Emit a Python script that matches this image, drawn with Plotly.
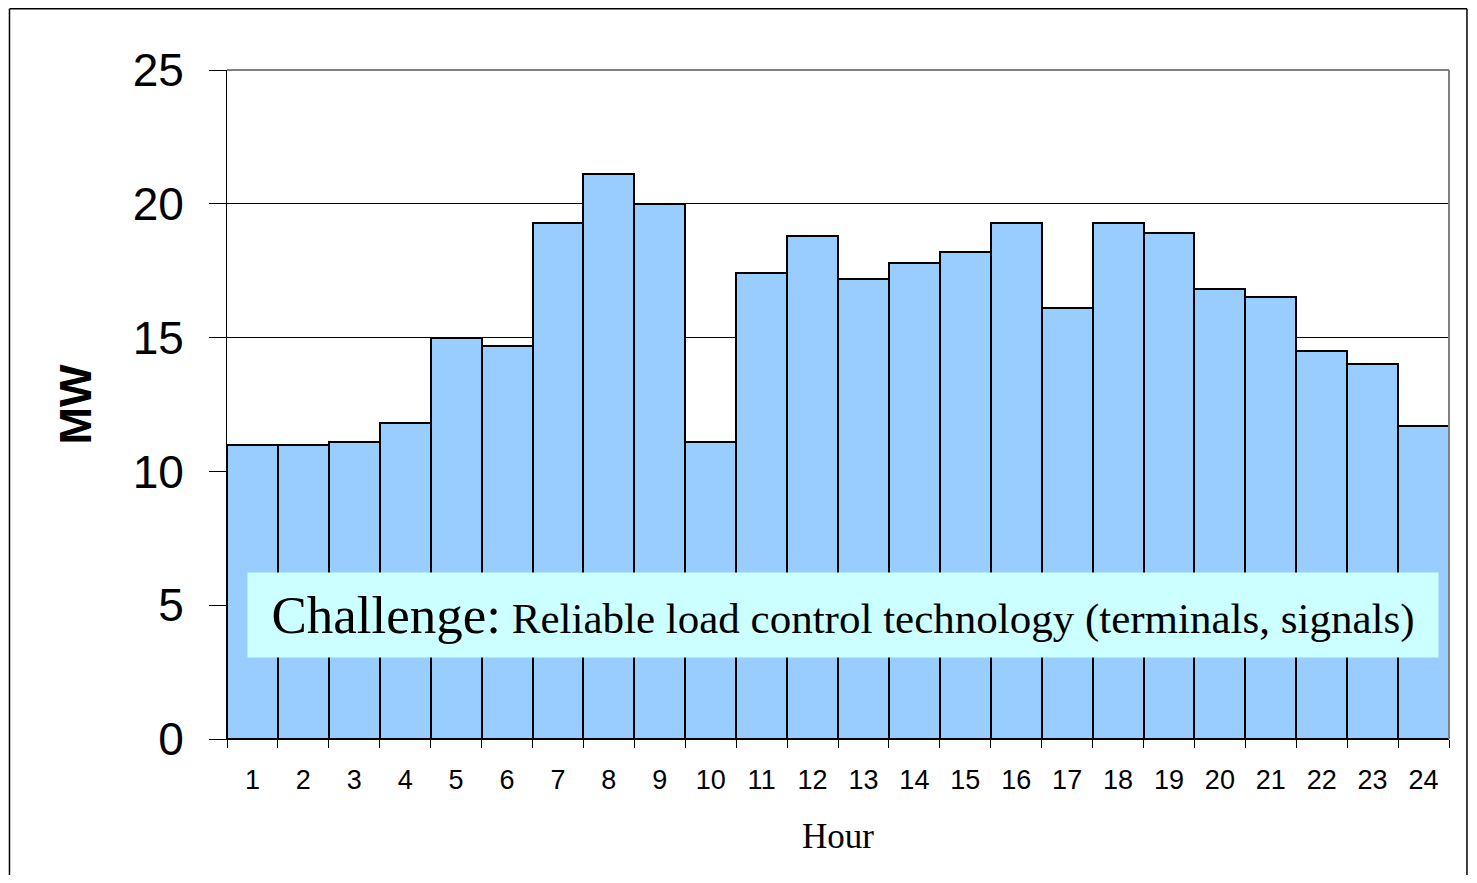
import plotly.graph_objects as go

hours = [str(h) for h in range(1, 25)]
mw = [11.0, 11.0, 11.1, 11.8, 15.0, 14.7, 19.3, 21.1, 20.0, 11.1, 17.4, 18.8,
      17.2, 17.8, 18.2, 19.3, 16.1, 19.3, 18.9, 16.8, 16.5, 14.5, 14.0, 11.7]
y_ticks = [0, 5, 10, 15, 20, 25]

SANS = "Liberation Sans, Arial, sans-serif"
SERIF = "Liberation Serif, Times New Roman, serif"

fig = go.Figure()
fig.add_trace(go.Bar(
    x=hours, y=mw,
    marker=dict(color="#99CCFF", line=dict(color="black", width=2)),
    width=1.0,
))

# page body has an 8px margin, so the figure is sized/offset to fit the window
fig.update_layout(
    width=1461, height=867,
    margin=dict(l=219, r=20, t=62, b=136),
    paper_bgcolor="white", plot_bgcolor="white",
    bargap=0, showlegend=False,
    xaxis=dict(
        type="category", tickson="boundaries", ticks="outside", ticklen=8,
        tickcolor="black", tickwidth=1,
        showline=True, linecolor="black", linewidth=1,
        showgrid=False, zeroline=False,
        tickfont=dict(family=SANS, size=27, color="black"),
        ticklabelstandoff=17,
        title=dict(text="Hour", font=dict(family=SERIF, size=35, color="black"), standoff=29),
        range=[-0.5, 23.5],
    ),
    yaxis=dict(
        range=[0, 25], tickvals=y_ticks, ticks="outside", ticklen=17,
        tickcolor="black", tickwidth=1,
        showline=True, linecolor="black", linewidth=1,
        showgrid=True, gridcolor="black", gridwidth=1,
        zeroline=False,
        tickfont=dict(family=SANS, size=46, color="black"),
        ticklabelstandoff=16,
        title=dict(text="<b>MW</b>", font=dict(family=SANS, size=45, color="black"), standoff=26),
    ),
)

# gray top and right frame of plot area
fig.add_shape(type="line", xref="paper", yref="paper", x0=0, x1=1, y0=1, y1=1,
              line=dict(color="#808080", width=2))
fig.add_shape(type="line", xref="paper", yref="paper", x0=1, x1=1, y0=0, y1=1,
              line=dict(color="#808080", width=2))
# outer border (left, top, right edges)
BL, BR, BT, BB = -0.178, 1.0147, 1.0915, -0.21
border = dict(color="black", width=1.5)
fig.add_shape(type="line", xref="paper", yref="paper", x0=BL, x1=BL, y0=BB, y1=BT, line=border)
fig.add_shape(type="line", xref="paper", yref="paper", x0=BL, x1=BR, y0=BT, y1=BT, line=border)
fig.add_shape(type="line", xref="paper", yref="paper", x0=BR, x1=BR, y0=BB, y1=BT, line=border)

fig.add_annotation(
    xref="paper", yref="y", x=0.504, y=4.63,
    text=("<span style='font-size:53px'>Challenge:</span>"
          "<span style='font-size:43px'> Reliable load control technology (terminals, signals)</span>"),
    showarrow=False, font=dict(family=SERIF, size=43, color="black"),
    bgcolor="#CCFFFF", width=1190, height=84, borderpad=0,
    xanchor="center", yanchor="middle", align="center", valign="middle",
)

fig.write_html("out.html")
